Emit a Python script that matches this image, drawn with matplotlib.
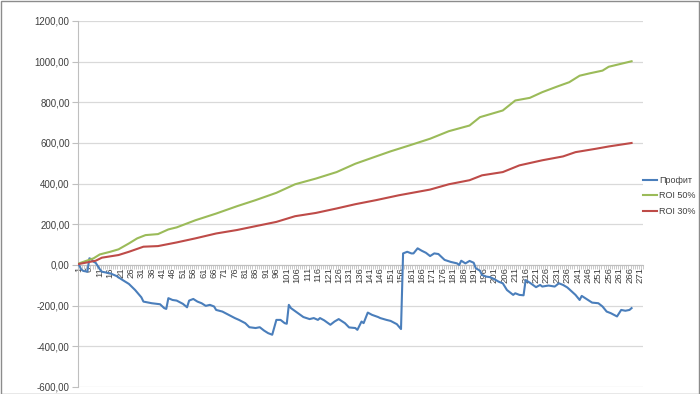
import matplotlib.pyplot as plt
from matplotlib.ticker import FuncFormatter

# category axis 1..272 (category index, value)
n_cats = 272

profit_x = [1, 2, 3, 5, 6, 7, 8, 9, 11, 12, 16, 19, 22, 25, 28, 31, 32, 36, 40, 42,
            43, 44, 46, 48, 51, 53, 54, 56, 58, 60, 62, 64, 66, 67, 70, 74, 76, 78, 81, 83,
            86, 88, 90, 92, 94, 96, 98, 100, 101, 102, 103, 106, 109, 112, 114, 116, 117, 119, 122, 124,
            126, 129, 131, 134, 135, 137, 138, 140, 142, 145, 146, 149, 151, 154, 156, 157, 159, 161, 162, 164,
            166, 168, 170, 172, 174, 177, 180, 183, 184, 185, 187, 189, 191, 192, 194, 195, 197, 199, 201, 203,
            205, 207, 210, 211, 213, 215, 216, 218, 221, 223, 224, 227, 230, 232, 234, 236, 237, 240, 242, 243,
            246, 248, 251, 253, 255, 257, 260, 262, 264, 266, 267]
profit_y = [0, -21, -29, -33, 33, 28, 16, 11, -21, -33, -41, -54, -74, -93, -123, -159, -180, -188, -193, -212,
            -216, -163, -172, -175, -191, -208, -175, -167, -180, -188, -201, -196, -204, -221, -229, -250, -261, -270, -286, -306,
            -310, -306, -322, -335, -343, -270, -270, -286, -289, -196, -212, -234, -256, -266, -261, -270, -261, -272, -294, -278,
            -266, -286, -307, -310, -319, -278, -286, -234, -245, -256, -261, -270, -275, -291, -315, 57, 65, 57, 57, 82,
            70, 60, 44, 57, 54, 25, 15, 8, 0, 21, 8, 20, 11, -16, -28, -49, -57, -60, -70, -82,
            -90, -123, -147, -139, -147, -149, -74, -87, -109, -98, -106, -101, -106, -90, -98, -110, -119, -147, -172, -152,
            -172, -185, -188, -204, -229, -237, -253, -221, -225, -221, -212]

roi50_x = [1, 8, 11, 16, 20, 25, 29, 33, 39, 44, 48, 57, 67, 77, 86, 96, 105, 115, 125, 134,
           144, 151, 160, 170, 179, 189, 194, 205, 211, 218, 224, 231, 237, 242, 247, 253, 256, 267]
roi50_y = [8, 33, 52, 65, 77, 106, 131, 147, 152, 175, 185, 220, 253, 289, 319, 355, 397, 425, 457, 498,
           534, 559, 588, 621, 658, 686, 727, 760, 809, 822, 850, 877, 899, 931, 943, 956, 975, 1002]

roi30_x = [1, 9, 12, 20, 25, 32, 39, 48, 57, 67, 77, 86, 96, 105, 115, 125, 134, 144, 155, 170,
           179, 189, 195, 205, 213, 224, 234, 240, 250, 256, 267]
roi30_y = [5, 21, 36, 49, 65, 90, 93, 111, 131, 155, 172, 191, 212, 240, 256, 278, 299, 319, 343, 371,
           397, 417, 441, 457, 490, 515, 534, 555, 572, 583, 600]

y_ticks = [-600, -400, -200, 0, 200, 400, 600, 800, 1000, 1200]

plt.rcParams['font.family'] = ['Liberation Sans', 'DejaVu Sans']

fig = plt.figure(figsize=(7, 3.94), dpi=100)
ax = fig.add_axes([78 / 700, 1 - 387 / 394, (643 - 78) / 700, (387 - 21) / 394])

ax.plot(profit_x, profit_y, color='#4A7EBB', lw=1.5, label='Профит', zorder=3)
ax.plot(roi50_x, roi50_y, color='#9BBB59', lw=1.5, label='ROI 50%', zorder=3)
ax.plot(roi30_x, roi30_y, color='#BE4B48', lw=1.5, label='ROI 30%', zorder=3)

ax.set_xlim(0.5, n_cats + 0.5)
ax.set_ylim(-600, 1200)
ax.set_yticks(y_ticks)
ax.yaxis.set_major_formatter(FuncFormatter(lambda v, p: f'{v:.2f}'.replace('.', ',')))
ax.grid(axis='y', color='#d9d9d9', lw=0.9)
ax.set_axisbelow(True)

for s in ['top', 'right']:
    ax.spines[s].set_visible(False)
ax.spines['left'].set_color('#bfbfbf')
ax.spines['bottom'].set_position(('data', 0))
ax.spines['bottom'].set_color('#bfbfbf')

labels = list(range(1, n_cats + 1, 5))
ax.set_xticks(labels)
ax.set_xticklabels([str(v) for v in labels], rotation=90, fontsize=6.8, color='#404040')
ax.set_xticks([k + 0.5 for k in range(0, n_cats + 1)], minor=True)
ax.tick_params(axis='x', which='major', length=0, pad=1.5)
ax.tick_params(axis='x', which='minor', length=3, color='#bfbfbf', width=0.6)
ax.tick_params(axis='y', length=4, color='#bfbfbf', labelsize=7, labelcolor='#404040', pad=2)

fig.legend(loc='center left', bbox_to_anchor=(643 / 700, 1 - 196 / 394), frameon=False,
           fontsize=6.5, handlelength=1.5, handletextpad=0.25, labelspacing=0.75,
           borderpad=0, borderaxespad=0, labelcolor='#404040')

fig.patches.append(plt.Rectangle((0.001, 0.001), 0.998, 0.997, transform=fig.transFigure,
                                 fill=False, edgecolor='#8c8c8c', lw=1))

fig.savefig('out.png', dpi=100)
